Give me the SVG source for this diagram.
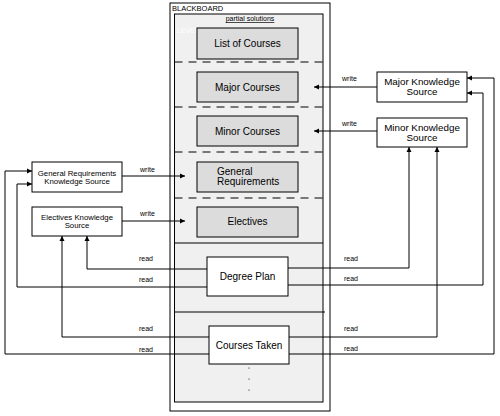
<svg xmlns="http://www.w3.org/2000/svg" width="500" height="416" viewBox="0 0 500 416">
<style>
text{font-family:"Liberation Sans",Arial,sans-serif;fill:#000}
.box{fill:#fff;stroke:#000;stroke-width:1}
.gbox{fill:#dcdcdc;stroke:#000;stroke-width:1}
.lbl{font-size:10px;text-anchor:middle}
.ks{font-size:7.8px;text-anchor:middle}
.ksr{font-size:9.8px;text-anchor:middle}
.sm{font-size:7px}
.dash{stroke:#000;stroke-width:1;stroke-dasharray:8,6;fill:none}
.ln{stroke:#000;stroke-width:1;fill:none}
</style>
<defs>
<marker id="ah" markerWidth="6" markerHeight="6" refX="5" refY="3" orient="auto" markerUnits="userSpaceOnUse">
<path d="M0,0.5 L5,3 L0,5.5 z" fill="#000"/>
</marker>
</defs>
<rect width="500" height="416" fill="#fff"/>
<g id="blackboard">
<rect x="170" y="3" width="160" height="408" class="box"/>
<text x="172" y="11" style="font-size:7.5px">BLACKBOARD</text>
<rect x="174.5" y="14" width="148.5" height="388" fill="#f0f0f0" stroke="#000"/>
<text x="250" y="21" class="sm" text-anchor="middle" text-decoration="underline">partial solutions</text>
<text x="177" y="33" class="sm" style="fill:#fff">LEVEL</text>
<line x1="174.5" y1="62" x2="323" y2="62" class="dash"/>
<line x1="174.5" y1="107" x2="323" y2="107" class="dash"/>
<line x1="174.5" y1="152" x2="323" y2="152" class="dash"/>
<line x1="174.5" y1="198" x2="323" y2="198" class="dash"/>
<line x1="174.5" y1="243" x2="323" y2="243" class="ln"/>
<line x1="174.5" y1="312" x2="325" y2="312" class="ln"/>
<circle cx="249" cy="368" r="0.6" fill="#000"/>
<circle cx="249" cy="379" r="0.6" fill="#000"/>
<circle cx="249" cy="390" r="0.6" fill="#000"/>
</g>
<g id="list-of-courses"><rect x="197" y="28" width="101" height="31" class="gbox"/><text x="247.5" y="47" class="lbl">List of Courses</text></g>
<g id="major-courses"><rect x="197" y="72" width="101" height="30" class="gbox"/><text x="247.5" y="91" class="lbl">Major Courses</text></g>
<g id="minor-courses"><rect x="197" y="116" width="101" height="30" class="gbox"/><text x="247.5" y="135" class="lbl">Minor Courses</text></g>
<g id="general-requirements"><rect x="197" y="162" width="101" height="30" class="gbox"/><text x="217" y="175" class="lbl" style="text-anchor:start">General</text><text x="217" y="185" class="lbl" style="text-anchor:start">Requirements</text></g>
<g id="electives"><rect x="197" y="207" width="101" height="30" class="gbox"/><text x="247.5" y="225" class="lbl">Electives</text></g>
<g id="degree-plan"><rect x="207" y="257" width="81" height="39" class="box"/><text x="247.5" y="280" class="lbl">Degree Plan</text></g>
<g id="courses-taken"><rect x="209" y="326" width="80" height="38" class="box"/><text x="249" y="349" class="lbl">Courses Taken</text></g>
<g id="general-ks"><rect x="32" y="162" width="90" height="30" class="box"/><text x="77" y="176" class="ks">General Requirements</text><text x="77" y="184" class="ks">Knowledge Source</text></g>
<g id="electives-ks"><rect x="32" y="207" width="90" height="29" class="box"/><text x="77" y="220" class="ks">Electives Knowledge</text><text x="77" y="228" class="ks">Source</text></g>
<g id="major-ks"><rect x="377" y="72" width="90" height="30" class="box"/><text x="422" y="85" class="ksr">Major Knowledge</text><text x="422" y="95" class="ksr">Source</text></g>
<g id="minor-ks"><rect x="377" y="118" width="90" height="29" class="box"/><text x="422" y="131" class="ksr">Minor Knowledge</text><text x="422" y="141" class="ksr">Source</text></g>
<g id="connectors">
<line x1="122" y1="176" x2="185" y2="176" class="ln" marker-end="url(#ah)"/>
<line x1="122" y1="221" x2="185" y2="221" class="ln" marker-end="url(#ah)"/>
<line x1="377" y1="87" x2="314" y2="87" class="ln" marker-end="url(#ah)"/>
<line x1="377" y1="131" x2="314" y2="131" class="ln" marker-end="url(#ah)"/>
<polyline points="207,269 87,269 87,236" class="ln" marker-end="url(#ah)"/>
<polyline points="207,287 17,287 17,184 32,184" class="ln" marker-end="url(#ah)"/>
<polyline points="209,337 62,337 62,236" class="ln" marker-end="url(#ah)"/>
<polyline points="209,354 5,354 5,171 32,171" class="ln" marker-end="url(#ah)"/>
<polyline points="288,268 409,268 409,147" class="ln" marker-end="url(#ah)"/>
<polyline points="288,285 483,285 483,93 467,93" class="ln" marker-end="url(#ah)"/>
<polyline points="289,337 437,337 437,147" class="ln" marker-end="url(#ah)"/>
<polyline points="289,354 494,354 494,78 467,78" class="ln" marker-end="url(#ah)"/>
<text x="140" y="172" class="sm">write</text>
<text x="140" y="216" class="sm">write</text>
<text x="342" y="81" class="sm">write</text>
<text x="342" y="126" class="sm">write</text>
<text x="139" y="261" class="sm">read</text>
<text x="139" y="282" class="sm">read</text>
<text x="139" y="331" class="sm">read</text>
<text x="139" y="352" class="sm">read</text>
<text x="344" y="261" class="sm">read</text>
<text x="344" y="281" class="sm">read</text>
<text x="344" y="331" class="sm">read</text>
<text x="344" y="351" class="sm">read</text>
</g>
</svg>
